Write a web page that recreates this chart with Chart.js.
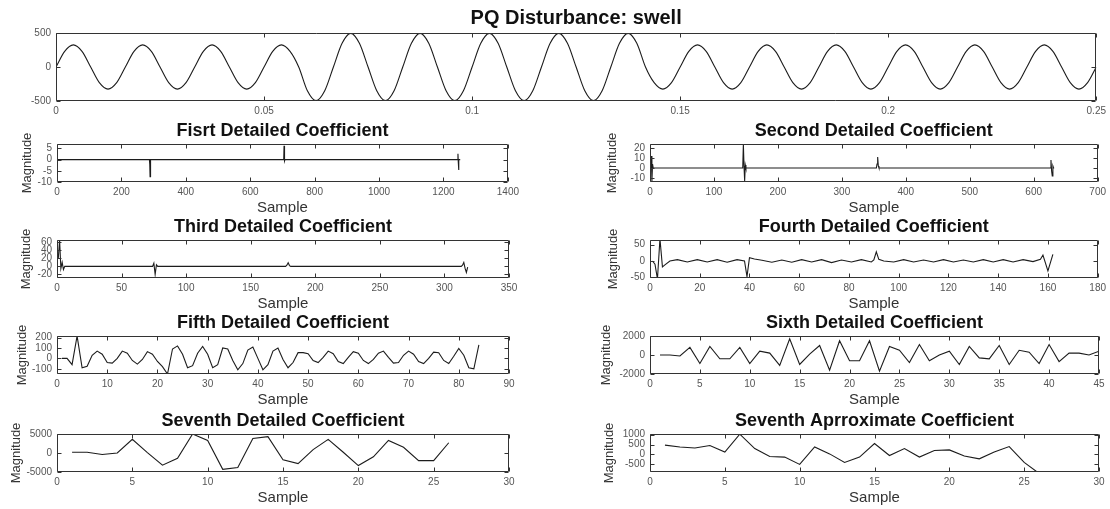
<!DOCTYPE html>
<html>
<head>
<meta charset="utf-8">
<title>PQ Disturbance: swell</title>
<script src="https://cdn.jsdelivr.net/npm/chart.js@4.4.0/dist/chart.umd.min.js"></script>
<style>
  body { margin: 0; background: #fff; width: 1110px; height: 509px; position: relative; overflow: hidden; }
  canvas { position: absolute; }
</style>
</head>
<body>
<canvas id="c0"></canvas>
<canvas id="c1"></canvas>
<canvas id="c2"></canvas>
<canvas id="c3"></canvas>
<canvas id="c4"></canvas>
<canvas id="c5"></canvas>
<canvas id="c6"></canvas>
<canvas id="c7"></canvas>
<canvas id="c8"></canvas>

<script>
// ---- data ----
// PQ signal, 60 Hz, 8 samples per cycle (step 1/480 s)
var sigStep = 1 / 480;
var signal = [
  0, 230, 325, 230, 0, -230, -325, -230,
  0, 230, 325, 230, 0, -230, -325, -230,
  0, 230, 325, 230, 0, -230, -325, -230,
  0, 230, 325, 230, 0, -350, -495, -350,
  0, 350, 495, 350, 0, -350, -495, -350,
  0, 350, 495, 350, 0, -350, -495, -350,
  0, 350, 495, 350, 0, -350, -495, -350,
  0, 350, 495, 350, 0, -350, -495, -350,
  0, 350, 495, 350, 0, -230, -325, -230,
  0, 230, 325, 230, 0, -230, -325, -230,
  0, 230, 325, 230, 0, -230, -325, -230,
  0, 230, 325, 230, 0, -230, -325, -230,
  0, 230, 325, 230, 0, -230, -325, -230,
  0, 230, 325, 230, 0, -230, -325, -230,
  0, 230, 325, 230, 0, -230, -325, -230,
  0
];
var sigXTicks = [0, 0.05, 0.1, 0.15, 0.2, 0.25];
var sigYTicks = [-500, 0, 500];

// first detailed coefficient (sample, value)
var d1X = [1, 287, 288, 289, 290, 291, 704, 705, 706, 707, 708, 1244, 1245, 1246, 1247, 1248, 1252];
var d1Y = [0, 0, -2, -7.6, -3, 0, 0, 6.2, 2, -0.6, 0, 0, 2.6, -1, -4.6, 0, 0];

// second detailed coefficient
var d2X = [1, 2, 3, 4, 5, 145, 146, 147, 148, 149, 150, 354, 355, 356, 357, 358, 626, 627, 628, 629, 630, 631, 632];
var d2Y = [0, 12, -13, 4, 0, 0, 24, 2, -13, 3, 0, 0, 4, 11, 2, 0, 0, 8, -3, -8, 2, 0, 0];

// third detailed coefficient
var d3X = [1, 2, 3, 4, 5, 6, 74, 75, 76, 77, 78, 177, 178, 179, 180, 181, 313, 314, 315, 316, 317, 318];
var d3Y = [20, 66, -5, 10, -8, 0, 0, 8, -20, 4, 0, 0, 3, 9, 2, 0, 0, 3, 10, -5, -15, -2];

// fourth detailed coefficient
var d4X = [1, 2, 3, 4, 5, 6, 8, 11, 15, 19, 23, 27, 31, 35, 38, 39, 40, 42, 45, 49,
  53, 57, 61, 65, 69, 73, 77, 81, 85, 89, 90, 91, 92, 94, 98, 102, 106, 110, 114, 118,
  122, 126, 130, 134, 138, 142, 146, 150, 154, 157, 158, 160, 162];
var d4Y = [0, -10, -55, 68, -18, -12, 0, 4, -3, 4, -3, 4, -4, 4, 0, -48, 10, 6, 2, -4,
  3, -4, 4, -3, 4, -5, 3, -3, 4, -3, 3, 28, 5, 0, -3, 4, -3, 3, -3, 4,
  -3, 3, -3, 4, -3, 4, -3, 4, -2, 5, 18, -30, 20];

// fifth detailed coefficient, samples 1..84
var d5 = [0, 0, -60, 215, -90, -75, 30, 70, 40, -40,
  -45, 0, 70, 50, -20, -55, -10, 65, 40, -30,
  -80, -150, 90, 120, 40, -90, -70, 50, 115, 40,
  -90, -60, 100, 90, -20, -110, -50, 80, 110, 0,
  -110, -60, 70, 100, -10, -90, -40, 55, 55, 45,
  -20, -40, 10, 70, 45, -30, -50, 10, 65, 50,
  -20, -50, -10, 50, 70, 10, -45, -40, 30, 70,
  40, -30, -50, 0, 60, 55, -20, -50, 20, 95,
  30, -90, -100, 130];

// sixth detailed coefficient, samples 1..45
var d6 = [0, 0, -100, 800, -900, 900, -400, -400, 800, -900,
  400, 200, -1100, 1700, -1000, 100, 1000, -1600, 1500, -600,
  -600, 1500, -1700, 900, 500, -800, 1100, -600, 0, 400,
  -1000, 900, -300, -400, 1000, -1000, 500, 300, -900, 1100,
  -700, 200, 200, 0, 400];

// seventh detailed coefficient, samples 1..26
var d7 = [200, 200, -400, 0, 3600, 100, -3200, -1400, 5000, 3300,
  -4300, -3800, 3800, 4300, -1800, -2800, 900, 3600, 200, -3300,
  -1000, 3300, 1500, -2000, -2000, 2700];

// seventh approximate coefficient, samples 1..26
var a7 = [470, 380, 330, 450, 120, 1020, 300, -100, -130, -500,
  380, 30, -400, -130, 550, -50, 300, -130, 200, 230,
  -80, -220, 120, 400, -400, -950];

// ---- drawing ----
var FONT = '"Liberation Sans", Arial, sans-serif';

function pairs(xs, ys) {
  return xs.map(function (x, i) { return { x: x, y: ys[i] }; });
}
function bySample(ys) {
  return ys.map(function (y, i) { return { x: i + 1, y: y }; });
}
function fixedTicks(list) {
  return function (axis) {
    axis.ticks = list.map(function (v) { return { value: v }; });
  };
}

// MATLAB style box with inward tick marks
var frame = {
  id: 'frame',
  afterDraw: function (chart) {
    var a = chart.chartArea, ctx = chart.ctx;
    var sx = chart.scales.x, sy = chart.scales.y;
    var L = Math.round(a.left) + 0.5, R = Math.round(a.right) - 0.5;
    var T = Math.round(a.top) + 0.5, B = Math.round(a.bottom) - 0.5;
    ctx.save();
    ctx.strokeStyle = '#333';
    ctx.lineWidth = 1;
    ctx.beginPath();
    ctx.rect(L, T, R - L, B - T);
    sx.ticks.forEach(function (t) {
      var px = Math.round(sx.getPixelForValue(t.value)) + 0.5;
      ctx.moveTo(px, B); ctx.lineTo(px, B - 4);
      ctx.moveTo(px, T); ctx.lineTo(px, T + 4);
    });
    sy.ticks.forEach(function (t) {
      var py = Math.round(sy.getPixelForValue(t.value)) + 0.5;
      ctx.moveTo(L, py); ctx.lineTo(L + 4, py);
      ctx.moveTo(R, py); ctx.lineTo(R - 4, py);
    });
    ctx.stroke();
    ctx.restore();
  }
};

function makePanel(id, p) {
  var cv = document.getElementById(id);
  var canvasLeft = p.boxLeft - p.yAxisW;
  cv.width = p.yAxisW + p.boxW + p.rightPad;
  cv.height = p.titleH + p.boxH + p.xAxisH;
  cv.style.left = canvasLeft + 'px';
  cv.style.top = (p.boxTop - p.titleH) + 'px';

  var padTop = p.titleH - p.titleOff - p.titleSize / 2;
  var padBottom = p.titleH - p.titleSize - padTop;
  var yLabelPad = p.yLabelX ? p.yLabelX - canvasLeft - 6.5 : 0;

  return new Chart(cv, {
    type: 'line',
    data: {
      datasets: [{
        data: p.points,
        borderColor: '#1c1c1c',
        borderWidth: 1.1,
        pointRadius: 0,
        fill: false,
        tension: 0,
        cubicInterpolationMode: p.smooth ? 'monotone' : 'default'
      }]
    },
    options: {
      responsive: false,
      animation: false,
      events: [],
      layout: { padding: { left: 0, right: p.rightPad, top: 0, bottom: 0 } },
      plugins: {
        legend: { display: false },
        tooltip: { enabled: false },
        title: {
          display: true,
          text: p.title,
          fullSize: false,
          color: '#111',
          font: { family: FONT, size: p.titleSize, weight: 'bold', lineHeight: 1 },
          padding: { top: padTop, bottom: padBottom }
        }
      },
      scales: {
        x: {
          type: 'linear',
          min: p.xTicks[0],
          max: p.xTicks[p.xTicks.length - 1],
          afterBuildTicks: fixedTicks(p.xTicks),
          afterFit: function (axis) { axis.height = p.xAxisH; },
          grid: { display: false, drawTicks: false },
          border: { display: false },
          ticks: {
            autoSkip: false, maxRotation: 0, padding: 4, color: '#555',
            font: { family: FONT, size: 10 },
            callback: function (v) { return String(v); }
          },
          title: {
            display: !!p.xLabel, text: p.xLabel || '', color: '#333',
            font: { family: FONT, size: 15, lineHeight: 1 },
            padding: { top: 0, bottom: 3 }
          }
        },
        y: {
          type: 'linear',
          min: p.yMin,
          max: p.yMax,
          afterBuildTicks: fixedTicks(p.yTicks),
          afterFit: function (axis) { axis.width = p.yAxisW; },
          grid: { display: false, drawTicks: false },
          border: { display: false },
          ticks: {
            autoSkip: false, padding: 5, color: '#555',
            font: { family: FONT, size: 10 },
            callback: function (v) { return String(v); }
          },
          title: {
            display: !!p.yLabel, text: p.yLabel || '', color: '#333',
            font: { family: FONT, size: 13, lineHeight: 1 },
            padding: { top: yLabelPad, bottom: 0 }
          }
        }
      }
    },
    plugins: [frame]
  });
}

var left = { boxLeft: 57, boxW: 452, yAxisW: 55, rightPad: 14 };
var right = { boxLeft: 650, boxW: 449, yAxisW: 57, rightPad: 11 };
var rowTops = [144, 240, 336, 434];

function sub(col, row, extra) {
  var p = {
    boxLeft: col.boxLeft, boxW: col.boxW, yAxisW: col.yAxisW, rightPad: col.rightPad,
    boxTop: rowTops[row], boxH: 38,
    titleH: 26, titleOff: 13, titleSize: 18, xAxisH: 36,
    xLabel: 'Sample', yLabel: 'Magnitude'
  };
  for (var k in extra) p[k] = extra[k];
  return p;
}

makePanel('c0', {
  boxLeft: 56, boxW: 1044, yAxisW: 50, rightPad: 10,
  boxTop: 33, boxH: 68, titleH: 31, titleOff: 15, titleSize: 20, xAxisH: 20,
  title: 'PQ Disturbance: swell',
  points: signal.map(function (v, i) { return { x: i * sigStep, y: v }; }),
  smooth: true,
  xTicks: sigXTicks, yTicks: sigYTicks, yMin: -500, yMax: 500
});

makePanel('c1', sub(left, 0, {
  title: 'Fisrt Detailed Coefficient', points: pairs(d1X, d1Y), yLabelX: 27,
  xTicks: [0, 200, 400, 600, 800, 1000, 1200, 1400],
  yTicks: [-10, -5, 0, 5], yMin: -10, yMax: 7
}));
makePanel('c2', sub(right, 0, {
  title: 'Second Detailed Coefficient', points: pairs(d2X, d2Y), yLabelX: 612,
  xTicks: [0, 100, 200, 300, 400, 500, 600, 700],
  yTicks: [-10, 0, 10, 20], yMin: -14, yMax: 24
}));
makePanel('c3', sub(left, 1, {
  title: 'Third Detailed Coefficient', points: pairs(d3X, d3Y), yLabelX: 26,
  xTicks: [0, 50, 100, 150, 200, 250, 300, 350],
  yTicks: [-20, 0, 20, 40, 60], yMin: -29, yMax: 66
}));
makePanel('c4', sub(right, 1, {
  title: 'Fourth Detailed Coefficient', points: pairs(d4X, d4Y), yLabelX: 613,
  xTicks: [0, 20, 40, 60, 80, 100, 120, 140, 160, 180],
  yTicks: [-50, 0, 50], yMin: -52, yMax: 64
}));
makePanel('c5', sub(left, 2, {
  title: 'Fifth Detailed Coefficient', points: bySample(d5), yLabelX: 22,
  xTicks: [0, 10, 20, 30, 40, 50, 60, 70, 80, 90],
  yTicks: [-100, 0, 100, 200], yMin: -150, yMax: 215
}));
makePanel('c6', sub(right, 2, {
  title: 'Sixth Detailed Coefficient', points: bySample(d6), yLabelX: 606,
  xTicks: [0, 5, 10, 15, 20, 25, 30, 35, 40, 45],
  yTicks: [-2000, 0, 2000], yMin: -2000, yMax: 2000
}));
makePanel('c7', sub(left, 3, {
  title: 'Seventh Detailed Coefficient', points: bySample(d7), yLabelX: 16,
  xTicks: [0, 5, 10, 15, 20, 25, 30],
  yTicks: [-5000, 0, 5000], yMin: -5000, yMax: 5000
}));
makePanel('c8', sub(right, 3, {
  title: 'Seventh Aprroximate Coefficient', points: bySample(a7), yLabelX: 609,
  xTicks: [0, 5, 10, 15, 20, 25, 30],
  yTicks: [-500, 0, 500, 1000], yMin: -880, yMax: 1030
}));
</script>
</body>
</html>
